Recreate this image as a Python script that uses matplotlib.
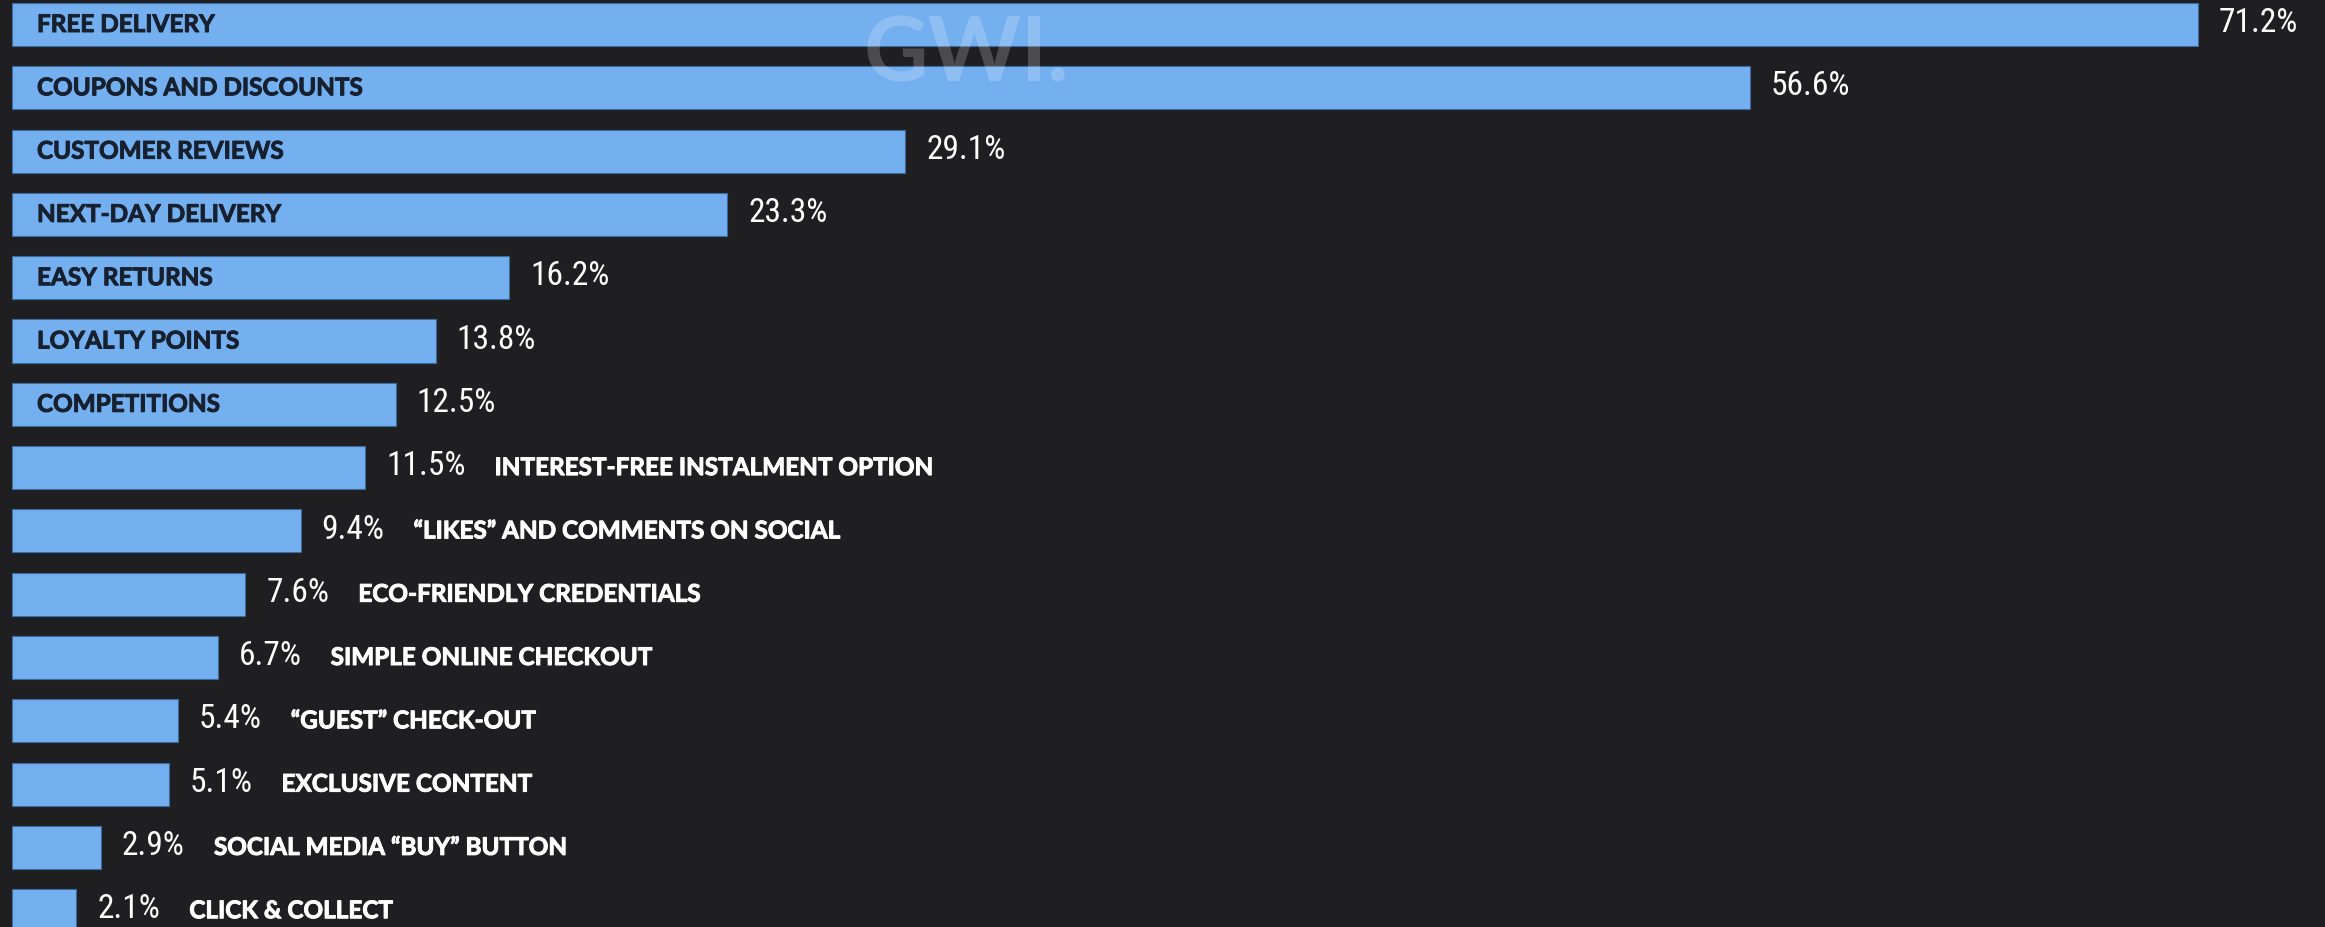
import matplotlib
matplotlib.use("Agg")
import matplotlib.pyplot as plt
import matplotlib.patheffects as pe

# share of shoppers (%) by factor that would encourage an online purchase
categories = [
    "FREE DELIVERY",
    "COUPONS AND DISCOUNTS",
    "CUSTOMER REVIEWS",
    "NEXT-DAY DELIVERY",
    "EASY RETURNS",
    "LOYALTY POINTS",
    "COMPETITIONS",
    "INTEREST-FREE INSTALMENT OPTION",
    "\u201cLIKES\u201d AND COMMENTS ON SOCIAL",
    "ECO-FRIENDLY CREDENTIALS",
    "SIMPLE ONLINE CHECKOUT",
    "\u201cGUEST\u201d CHECK-OUT",
    "EXCLUSIVE CONTENT",
    "SOCIAL MEDIA \u201cBUY\u201d BUTTON",
    "CLICK & COLLECT",
]
values = [71.2, 56.6, 29.1, 23.3, 16.2, 13.8, 12.5, 11.5, 9.4, 7.6, 6.7, 5.4, 5.1, 2.9, 2.1]

BG = "#1f1f21"
BAR = "#74b0f0"
INNER_TEXT = "#17202e"
LABEL_FONT = ["Lato", "DejaVu Sans"]
VALUE_FONT = ["Roboto Condensed", "Noto Sans Condensed", "Open Sans Condensed", "DejaVu Sans"]
INSIDE_MIN = 12.0  # bars this long carry their label inside

W, H, DPI = 2325, 927, 100
PX_PER_PCT = 30.7
ROW_PX = 63.3
LEFT_PX = 12
TOP_PX = 24.5


def heavy(color, lw=0.7):
    # thicken the bold face a little
    return [pe.withStroke(linewidth=lw, foreground=color)]


fig = plt.figure(figsize=(W / DPI, H / DPI), dpi=DPI, facecolor=BG)
ax = fig.add_axes([0, 0, 1, 1])
ax.set_facecolor(BG)

ypos = list(range(len(categories)))
ax.barh(ypos, values, height=0.68, color=BAR, edgecolor="#3d6a9c", linewidth=0.8)

ax.set_xlim(-LEFT_PX / PX_PER_PCT, (W - LEFT_PX) / PX_PER_PCT)
top = -TOP_PX / ROW_PX
ax.set_ylim(top + H / ROW_PX, top)
ax.axis("off")

for y, cat, v in zip(ypos, categories, values):
    val = ax.annotate(f"{v:.1f}%", xy=(v, y), xytext=(15, 1), textcoords="offset points",
                      va="center", ha="left", color="white", fontsize=24,
                      family=VALUE_FONT, fontstretch="condensed")
    if v >= INSIDE_MIN:
        ax.annotate(cat, xy=(0, y), xytext=(18, 0), textcoords="offset points",
                    va="center", ha="left", color=INNER_TEXT, fontsize=17.5,
                    fontweight="bold", family=LABEL_FONT,
                    path_effects=heavy(INNER_TEXT))
    else:
        ax.annotate(cat, xy=(1, 0.5), xycoords=val, xytext=(21, -1),
                    textcoords="offset points", va="center", ha="left",
                    color="white", fontsize=17.5, fontweight="bold",
                    family=LABEL_FONT, path_effects=heavy("white"))

# brand watermark
fig.text(966 / W, 1 - 55 / H, "GWI.", ha="center", va="center", fontsize=64,
         fontweight="bold", family=LABEL_FONT, color="white", alpha=0.2)

fig.savefig("out.png", dpi=DPI, facecolor=BG)
